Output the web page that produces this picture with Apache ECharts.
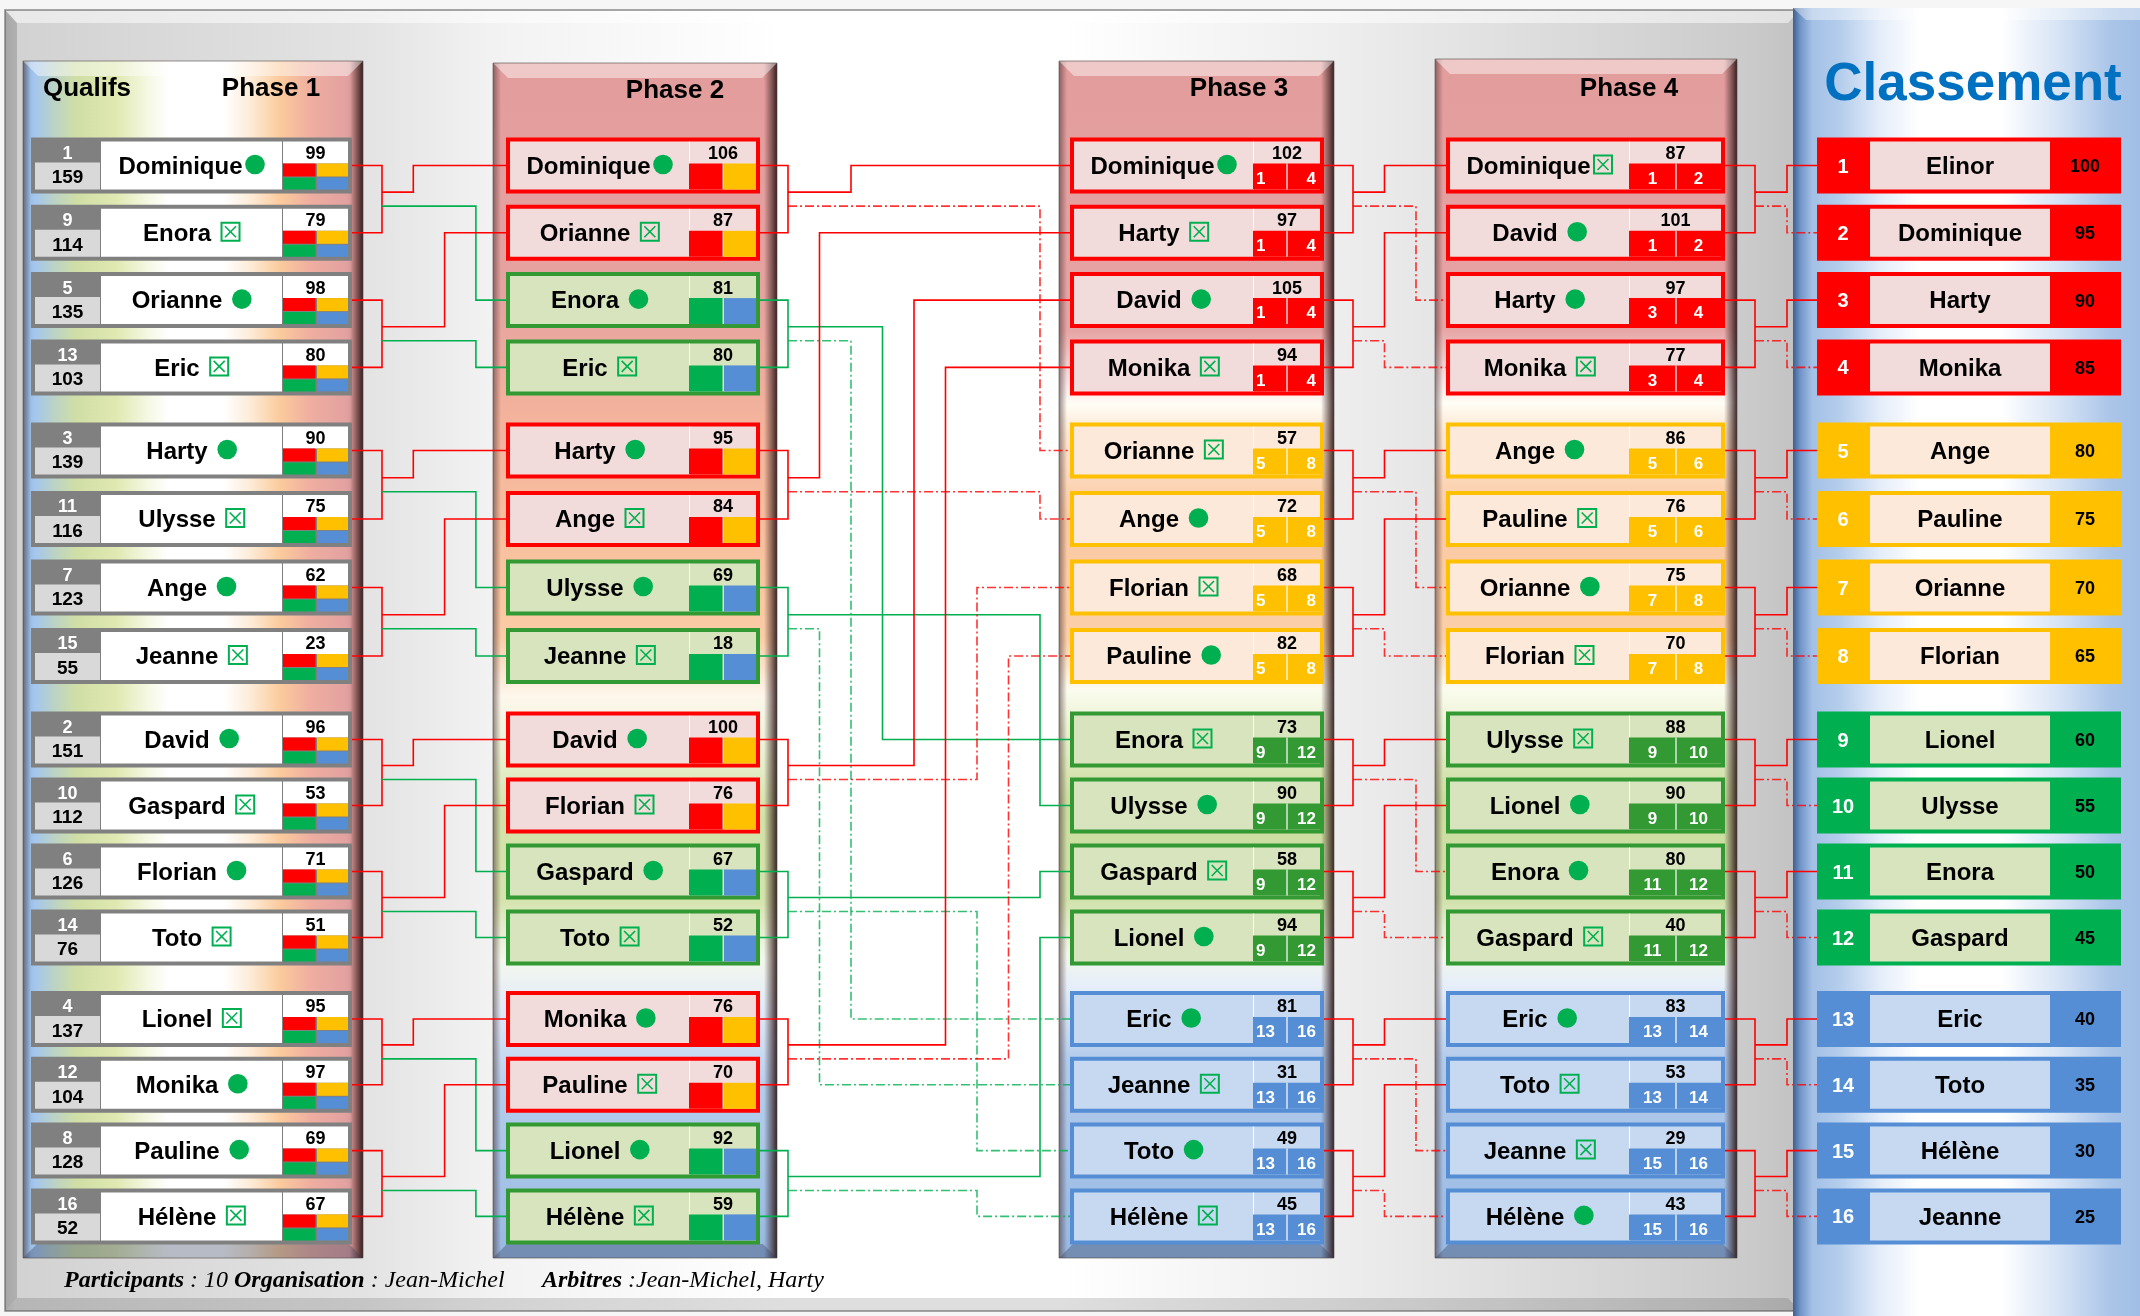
<!DOCTYPE html>
<html><head><meta charset="utf-8">
<script src="https://cdn.jsdelivr.net/npm/echarts@6/dist/echarts.min.js"></script>
<style>html,body{margin:0;padding:0;background:#fff;overflow:hidden}#main{width:2140px;height:1316px}</style>
</head><body><div id="main"></div>
<script>
// ================= DATA =================
const phaseTitles = ['Qualifs', 'Phase 1', 'Phase 2', 'Phase 3', 'Phase 4', 'Classement'];
const footerLeft = [['Participants', true], [' : 10 ', false], ['Organisation', true], [' : Jean-Michel', false]];
const footerRight = [['Arbitres', true], [' :Jean-Michel, Harty', false]];

// Phase 1 (qualification seed, qualif points, name, mark, phase-1 score)
const p1Seeds  = [1, 9, 5, 13, 3, 11, 7, 15, 2, 10, 6, 14, 4, 12, 8, 16];
const p1Qualif = [159, 114, 135, 103, 139, 116, 123, 55, 151, 112, 126, 76, 137, 104, 128, 52];
const p1Names  = ['Dominique', 'Enora', 'Orianne', 'Eric', 'Harty', 'Ulysse', 'Ange', 'Jeanne',
                  'David', 'Gaspard', 'Florian', 'Toto', 'Lionel', 'Monika', 'Pauline', 'Hélène'];
const p1Marks  = ['o', 'x', 'o', 'x', 'o', 'x', 'o', 'x', 'o', 'x', 'o', 'x', 'x', 'o', 'o', 'x'];
const p1Scores = [99, 79, 98, 80, 90, 75, 62, 23, 96, 53, 71, 51, 95, 97, 69, 67];

// Phase 2
const p2Names  = ['Dominique', 'Orianne', 'Enora', 'Eric', 'Harty', 'Ange', 'Ulysse', 'Jeanne',
                  'David', 'Florian', 'Gaspard', 'Toto', 'Monika', 'Pauline', 'Lionel', 'Hélène'];
const p2Marks  = ['o', 'x', 'o', 'x', 'o', 'x', 'o', 'x', 'o', 'x', 'o', 'x', 'o', 'x', 'o', 'x'];
const p2Scores = [106, 87, 81, 80, 95, 84, 69, 18, 100, 76, 67, 52, 76, 70, 92, 59];

// Phase 3
const p3Names  = ['Dominique', 'Harty', 'David', 'Monika', 'Orianne', 'Ange', 'Florian', 'Pauline',
                  'Enora', 'Ulysse', 'Gaspard', 'Lionel', 'Eric', 'Jeanne', 'Toto', 'Hélène'];
const p3Marks  = ['o', 'x', 'o', 'x', 'x', 'o', 'x', 'o', 'x', 'o', 'x', 'o', 'o', 'x', 'o', 'x'];
const p3Scores = [102, 97, 105, 94, 57, 72, 68, 82, 73, 90, 58, 94, 81, 31, 49, 45];
const p3RangeLo = [1, 1, 1, 1, 5, 5, 5, 5, 9, 9, 9, 9, 13, 13, 13, 13];
const p3RangeHi = [4, 4, 4, 4, 8, 8, 8, 8, 12, 12, 12, 12, 16, 16, 16, 16];

// Phase 4
const p4Names  = ['Dominique', 'David', 'Harty', 'Monika', 'Ange', 'Pauline', 'Orianne', 'Florian',
                  'Ulysse', 'Lionel', 'Enora', 'Gaspard', 'Eric', 'Toto', 'Jeanne', 'Hélène'];
const p4Marks  = ['x', 'o', 'o', 'x', 'o', 'x', 'o', 'x', 'x', 'o', 'o', 'x', 'o', 'x', 'x', 'o'];
const p4Scores = [87, 101, 97, 77, 86, 76, 75, 70, 88, 90, 80, 40, 83, 53, 29, 43];
const p4RangeLo = [1, 1, 3, 3, 5, 5, 7, 7, 9, 9, 11, 11, 13, 13, 15, 15];
const p4RangeHi = [2, 2, 4, 4, 6, 6, 8, 8, 10, 10, 12, 12, 14, 14, 16, 16];

// Classement
const rankNumbers = [1, 2, 3, 4, 5, 6, 7, 8, 9, 10, 11, 12, 13, 14, 15, 16];
const rankNames  = ['Elinor', 'Dominique', 'Harty', 'Monika', 'Ange', 'Pauline', 'Orianne', 'Florian',
                    'Lionel', 'Ulysse', 'Enora', 'Gaspard', 'Eric', 'Toto', 'Hélène', 'Jeanne'];
const rankPoints = [100, 95, 90, 85, 80, 75, 70, 65, 60, 55, 50, 45, 40, 35, 30, 25];

// ================= LAYOUT / STYLE =================
const SANS = '"Liberation Sans", Arial, sans-serif';
const SERIF = '"Liberation Serif", "Times New Roman", serif';
const RED = '#ff0000', ORANGE = '#ffc000', GREEN = '#00b050', BLUE = '#558ed5', DKGREEN = '#339933';
const BORDER = [RED, ORANGE, DKGREEN, BLUE];
const LIGHT = ['#f2dcdb', '#fde9d9', '#d7e4bd', '#c6d9f1'];
const STRONG = [RED, ORANGE, GREEN, BLUE];
const NAME_FONT = 'bold 24px ' + SANS;
const NUM_FONT = 'bold 18px ' + SANS;
const LINE_W = 1.6;
const DASH = [9, 3, 2, 3];
const GROUP_TOP = [165.5, 450.5, 739.5, 1019];
const GROUP_PITCH = [67.3, 68.5, 66, 65.8];
const TEXT_DY = 1.5;

// connector routing between columns: source edge, bracket x, lane step, target edge
const TRANS = [
  { src: 352, bx: 382, step: 31.3, tgt: 506 },
  { src: 760, bx: 788, step: 31.5, tgt: 1070 },
  { src: 1324, bx: 1353, step: 31.5, tgt: 1446 },
  { src: 1725, bx: 1755, step: 32, tgt: 1817 }
];
// lane index [transition][group][pair] for winner / loser routes
const LANE_W = [
  [[1, 2], [1, 2], [1, 2], [1, 2]],
  [[2, 3], [1, 8], [4, 8], [5, 8]],
  [[1, 1], [1, 1], [1, 1], [1, 1]],
  [[1, 1], [1, 1], [1, 1], [1, 1]]
];
const LANE_L = [
  [[3, 3], [3, 3], [3, 3], [3, 3]],
  [[8, 2], [8, 1], [6, 6], [7, 6]],
  [[2, 1], [2, 1], [2, 1], [2, 1]],
  [[1, 1], [1, 1], [1, 1], [1, 1]]
];

function rowY(r) { const g = Math.floor(r / 4); return GROUP_TOP[g] + GROUP_PITCH[g] * (r % 4); }

const mctx = document.createElement('canvas').getContext('2d');
function textW(t, font) { mctx.font = font; return mctx.measureText(t).width; }

function grad(x, y, x2, y2, stops) {
  return { type: 'linear', x: x, y: y, x2: x2, y2: y2, global: false,
    colorStops: stops.map(s => ({ offset: s[0], color: s[1] })) };
}

function tools(api) {
  const P = (x, y) => api.coord([x, y]);
  const rect = (x0, y0, x1, y1, style) => {
    const a = P(x0, y0), b = P(x1, y1);
    return { type: 'rect', shape: { x: Math.min(a[0], b[0]), y: Math.min(a[1], b[1]),
      width: Math.abs(b[0] - a[0]), height: Math.abs(b[1] - a[1]) }, style: style };
  };
  const text = (x, y, t, font, fill, align, extra) => {
    const a = P(x, y + TEXT_DY);
    return { type: 'text', style: Object.assign({ text: String(t), x: a[0], y: a[1], font: font, fill: fill,
      align: align || 'center', verticalAlign: 'middle' }, extra || {}) };
  };
  const poly = (pts, style) => ({ type: 'polyline', shape: { points: pts.map(p => P(p[0], p[1])) },
    style: Object.assign({ fill: null }, style) });
  const polygon = (pts, style) => ({ type: 'polygon', shape: { points: pts.map(p => P(p[0], p[1])) }, style: style });
  return { P, rect, text, poly, polygon };
}

function nameWithMark(T, cx, cy, name, mark) {
  const tw = textW(name, NAME_FONT);
  const gap = tw > 110 ? 3 : 10;
  const total = tw + gap + 19;
  const x0 = cx - total / 2;
  const els = [T.text(x0, cy, name, NAME_FONT, '#000', 'left')];
  const ix = x0 + tw + gap + 9.5, iy = cy - 1;
  if (mark === 'o') {
    const c = T.P(ix, iy);
    els.push({ type: 'circle', shape: { cx: c[0], cy: c[1], r: 9.8 }, style: { fill: GREEN } });
  } else {
    els.push(T.rect(ix - 9, iy - 9, ix + 9, iy + 9, { fill: null, stroke: GREEN, lineWidth: 2 }));
    els.push(T.poly([[ix - 5.5, iy - 5.5], [ix + 5.5, iy + 5.5]], { stroke: GREEN, lineWidth: 1.6 }));
    els.push(T.poly([[ix + 5.5, iy - 5.5], [ix - 5.5, iy + 5.5]], { stroke: GREEN, lineWidth: 1.6 }));
  }
  return els;
}

function panel(T, x0, y0, x1, y1, fill) {
  return [
    T.rect(x0, y0, x1, y1, { fill: fill }),
    T.rect(x0, y0, x0 + 8, y1, { fill: grad(0, 0, 1, 0, [[0, 'rgba(70,45,45,0.55)'], [1, 'rgba(70,45,45,0)']]) }),
    T.rect(x1 - 13, y0, x1, y1, { fill: grad(0, 0, 1, 0, [[0, 'rgba(50,25,25,0)'], [0.5, 'rgba(50,25,25,0.45)'], [1, 'rgba(40,20,20,0.9)']]) }),
    T.polygon([[x0, y0], [x1, y0], [x1 - 15, y0 + 15], [x0 + 15, y0 + 15]], { fill: 'rgba(255,255,255,0.45)' }),
    T.polygon([[x0, y1], [x1, y1], [x1 - 14, y1 - 14], [x0 + 14, y1 - 14]], { fill: 'rgba(50,60,90,0.35)' }),
    T.rect(x0, y0, x1, y1, { fill: null, stroke: 'rgba(80,70,70,0.6)', lineWidth: 1 })
  ];
}

const P1_STOPS = [[0, '#8fb3e0'], [0.035, '#a4c6ee'], [0.094, '#bcd3c4'], [0.153, '#cfdea6'], [0.27, '#dfe8b0'],
  [0.373, '#f6f9e6'], [0.43, '#ffffff'], [0.59, '#ffffff'], [0.667, '#fdecd9'], [0.755, '#fbcb9c'],
  [0.845, '#efaea0'], [0.95, '#e3a1a1'], [1, '#c88888']];
const P2_STOPS = [[0, '#e29c9c'], [0.2, '#e6a3a0'], [0.3, '#f4b39c'], [0.4, '#f8c09e'], [0.48, '#fbcca6'],
  [0.53, '#fdf7ec'], [0.57, '#eef3d8'], [0.63, '#d3e2a8'], [0.7, '#d5e3ad'], [0.75, '#f4f8ee'],
  [0.79, '#e2ebf8'], [0.86, '#b4cdec'], [1, '#98b8e2']];
const P3_STOPS = [[0, '#e29c9c'], [0.225, '#e7a4a4'], [0.265, '#f6dede'], [0.287, '#fffdf5'], [0.31, '#fde7d2'],
  [0.383, '#fac9a3'], [0.484, '#fbcfa8'], [0.525, '#fbfcef'], [0.55, '#eef4d8'], [0.617, '#cbdc9f'],
  [0.7, '#d0e1a9'], [0.747, '#f2f7ec'], [0.772, '#e6eef9'], [0.835, '#b2cbeb'], [1, '#98b8e2']];
const FRAME_STOPS = [[0, '#c6c6c6'], [0.006, '#d2d2d2'], [0.2, '#e3e3e3'], [0.27, '#f2f2f2'], [0.433, '#ffffff'],
  [0.59, '#ffffff'], [0.74, '#eeeeee'], [0.8, '#e5e5e5'], [0.97, '#cbcbcb'], [1, '#c2c2c2']];
const CLS_STOPS = [[0, '#3d5f8f'], [0.02, '#6f93c6'], [0.055, '#a3c0e6'], [0.135, '#b4cdec'], [0.25, '#e4edf9'],
  [0.366, '#ffffff'], [0.6, '#ffffff'], [0.77, '#d6e3f5'], [0.915, '#aac5e8'], [1, '#a0bee6']];

// ================= RENDERERS =================
function renderDecor(params, api) {
  const T = tools(api);
  const ch = [];
  ch.push(T.rect(0, 0, 2140, 1316, { fill: '#f6f6f6' }));
  ch.push(T.rect(5, 10, 1800, 1311, { fill: grad(0, 0, 1, 0, FRAME_STOPS) }));
  ch.push(T.polygon([[5, 10], [1800, 10], [1788, 23], [17, 23]], { fill: 'rgba(255,255,255,0.5)' }));
  ch.push(T.polygon([[5, 10], [17, 23], [17, 1298], [5, 1311]], { fill: 'rgba(0,0,0,0.16)' }));
  ch.push(T.polygon([[5, 1311], [1800, 1311], [1788, 1298], [17, 1298]], { fill: 'rgba(0,0,0,0.13)' }));
  ch.push(T.rect(5, 10, 1800, 1311, { fill: null, stroke: 'rgba(90,90,90,0.7)', lineWidth: 1.5 }));
  // Classement panel
  ch.push(T.rect(1793, 8, 2140, 1316, { fill: grad(0, 0, 1, 0, CLS_STOPS) }));
  ch.push(T.polygon([[1793, 8], [2140, 8], [2140, 20], [1806, 20]], { fill: 'rgba(255,255,255,0.4)' }));
  // phase panels
  ch.push.apply(ch, panel(T, 23, 61, 363, 1258, grad(0, 0, 1, 0, P1_STOPS)));
  ch.push.apply(ch, panel(T, 493, 63, 777, 1258, grad(0, 0, 0, 1, P2_STOPS)));
  ch.push.apply(ch, panel(T, 1059, 61, 1334, 1258, grad(0, 0, 0, 1, P3_STOPS)));
  ch.push.apply(ch, panel(T, 1435, 59, 1737, 1258, grad(0, 0, 0, 1, P3_STOPS)));
  // headings
  const HF = 'bold 26px ' + SANS;
  ch.push(T.text(87, 87, phaseTitles[0], HF, '#000'));
  ch.push(T.text(271, 87, phaseTitles[1], HF, '#000'));
  ch.push(T.text(675, 89, phaseTitles[2], HF, '#000'));
  ch.push(T.text(1239, 87, phaseTitles[3], HF, '#000'));
  ch.push(T.text(1629, 87, phaseTitles[4], HF, '#000'));
  ch.push(T.text(1973, 84, phaseTitles[5], 'bold 53px ' + SANS, '#0070c0'));
  // footer
  const rich = { b: { font: 'italic bold 24px ' + SERIF, fill: '#000' }, n: { font: 'italic 24px ' + SERIF, fill: '#000' } };
  const toRich = arr => arr.map(s => '{' + (s[1] ? 'b' : 'n') + '|' + s[0] + '}').join('');
  ch.push(T.text(64, 1279, toRich(footerLeft), 'italic 24px ' + SERIF, '#000', 'left', { rich: rich }));
  ch.push(T.text(542, 1279, toRich(footerRight), 'italic 24px ' + SERIF, '#000', 'left', { rich: rich }));
  return { type: 'group', children: ch };
}

function renderLinks(params, api) {
  const T = tools(api);
  const t = api.value(0), g = api.value(1), p = api.value(2);
  const L = TRANS[t];
  const a = 4 * g + 2 * p, b = a + 1;
  const ya = rowY(a), yb = rowY(b), ym = (ya + yb) / 2;
  const yW = ym - 7, yL = ym + 7;
  let wT, lT, bc, wc, lc, ldash;
  if (t === 0) { wT = 4 * g + p; lT = 4 * g + 2 + p; bc = RED; wc = RED; lc = GREEN; ldash = null; }
  else if (t === 1) { wT = 8 * p + g; lT = 8 * p + 4 + g; bc = wc = lc = (p === 0 ? RED : GREEN); ldash = DASH; }
  else if (t === 2) { wT = 4 * g + p; lT = 4 * g + 2 + p; bc = wc = lc = RED; ldash = DASH; }
  else { wT = 4 * g + 2 * p; lT = 4 * g + 2 * p + 1; bc = wc = lc = RED; ldash = DASH; }
  const xW = L.bx + L.step * LANE_W[t][g][p], xL = L.bx + L.step * LANE_L[t][g][p];
  const yWT = rowY(wT), yLT = rowY(lT);
  return { type: 'group', children: [
    T.poly([[L.src, ya], [L.bx, ya], [L.bx, yb], [L.src, yb]], { stroke: bc, lineWidth: LINE_W }),
    T.poly([[L.bx, yW], [xW, yW], [xW, yWT], [L.tgt, yWT]], { stroke: wc, lineWidth: LINE_W }),
    T.poly([[L.bx, yL], [xL, yL], [xL, yLT], [L.tgt, yLT]],
      { stroke: lc, lineWidth: LINE_W, lineDash: ldash, opacity: ldash ? 0.8 : 1 })
  ] };
}

function renderP1(params, api) {
  const T = tools(api);
  const i = api.value(0);
  const c = rowY(i);
  const ch = [
    T.rect(31, c - 28, 352, c + 28, { fill: '#808080' }),
    T.rect(35, c - 3, 100, c + 24, { fill: '#d9d9d9' }),
    T.text(67.5, c - 13, p1Seeds[i], 'bold 18px ' + SANS, '#fff'),
    T.text(67.5, c + 11, p1Qualif[i], 'bold 19px ' + SANS, '#000'),
    T.rect(101, c - 24, 282, c + 24, { fill: '#ffffff' }),
    T.rect(283, c - 24, 348, c - 2, { fill: '#ffffff' }),
    T.text(315.5, c - 13, p1Scores[i], NUM_FONT, '#000'),
    T.rect(283, c - 2, 315.5, c + 11, { fill: RED }),
    T.rect(317, c - 2, 348, c + 11, { fill: ORANGE }),
    T.rect(283, c + 12, 315.5, c + 24, { fill: GREEN }),
    T.rect(317, c + 12, 348, c + 24, { fill: BLUE })
  ];
  ch.push.apply(ch, nameWithMark(T, 191.5, c, p1Names[i], p1Marks[i]));
  return { type: 'group', children: ch };
}

function phaseBox(T, cfg, c, name, mark, score, border, light, bottomL, bottomR, lo, hi) {
  const ch = [
    T.rect(cfg.x0, c - 28, cfg.x1, c + 28, { fill: border }),
    T.rect(cfg.x0 + 4, c - 24, cfg.x1 - 4, c + 24, { fill: light }),
    T.rect(cfg.nameEnd, c - 24, cfg.nameEnd + 1, c + 24, { fill: 'rgba(255,255,255,0.9)' }),
    T.text((cfg.nameEnd + cfg.x1 - 4) / 2 + 0.5, c - 13, score, NUM_FONT, '#000')
  ];
  if (lo == null) {
    ch.push(T.rect(cfg.nameEnd, c - 2, cfg.split - 0.5, c + 24, { fill: bottomL }));
    ch.push(T.rect(cfg.split + 1, c - 2, cfg.x1 - 4, c + 24, { fill: bottomR }));
  } else {
    ch.push(T.rect(cfg.nameEnd, c - 2, cfg.x1 - 4, c + 24, { fill: bottomL }));
    ch.push(T.rect(cfg.split - 0.6, c - 2, cfg.split + 0.6, c + 24, { fill: '#ffffff' }));
    const f = 'bold 17px ' + SANS;
    if (cfg.edgeNums) {
      ch.push(T.text(cfg.nameEnd + 3, c + 12, lo, f, '#fff', 'left'));
      ch.push(T.text(cfg.x1 - 8, c + 12, hi, f, '#fff', 'right'));
    } else {
      ch.push(T.text((cfg.nameEnd + cfg.split) / 2, c + 12, lo, f, '#fff'));
      ch.push(T.text((cfg.split + cfg.x1 - 4) / 2, c + 12, hi, f, '#fff'));
    }
  }
  ch.push.apply(ch, nameWithMark(T, (cfg.x0 + 4 + cfg.nameEnd) / 2, c, name, mark));
  return ch;
}

const P2CFG = { x0: 506, x1: 760, nameEnd: 689, split: 723 };
const P3CFG = { x0: 1070, x1: 1324, nameEnd: 1253, split: 1287, edgeNums: true };
const P4CFG = { x0: 1446, x1: 1725, nameEnd: 1629, split: 1676 };

function renderP2(params, api) {
  const T = tools(api);
  const i = api.value(0);
  const top = (i % 4) < 2;
  return { type: 'group', children: phaseBox(T, P2CFG, rowY(i), p2Names[i], p2Marks[i], p2Scores[i],
    top ? RED : DKGREEN, top ? LIGHT[0] : LIGHT[2], top ? RED : GREEN, top ? ORANGE : BLUE) };
}
function renderP3(params, api) {
  const T = tools(api);
  const i = api.value(0), g = Math.floor(i / 4);
  return { type: 'group', children: phaseBox(T, P3CFG, rowY(i), p3Names[i], p3Marks[i], p3Scores[i],
    BORDER[g], LIGHT[g], BORDER[g], BORDER[g], p3RangeLo[i], p3RangeHi[i]) };
}
function renderP4(params, api) {
  const T = tools(api);
  const i = api.value(0), g = Math.floor(i / 4);
  return { type: 'group', children: phaseBox(T, P4CFG, rowY(i), p4Names[i], p4Marks[i], p4Scores[i],
    BORDER[g], LIGHT[g], BORDER[g], BORDER[g], p4RangeLo[i], p4RangeHi[i]) };
}
function renderRank(params, api) {
  const T = tools(api);
  const i = api.value(0), g = Math.floor(i / 4), c = rowY(i);
  return { type: 'group', children: [
    T.rect(1817, c - 28, 2121, c + 28, { fill: STRONG[g] }),
    T.rect(1870, c - 24, 2050, c + 24, { fill: LIGHT[g] }),
    T.text(1843, c, rankNumbers[i], 'bold 20px ' + SANS, '#fff'),
    T.text(1960, c, rankNames[i], NAME_FONT, '#000'),
    T.text(2085, c, rankPoints[i], NUM_FONT, '#000')
  ] };
}

// ================= CHART =================
const chart = echarts.init(document.getElementById('main'), null, { renderer: 'canvas', width: 2140, height: 1316 });
const idx = arr => arr.map((_, i) => [i, 0]);
const linkData = [];
for (let t = 0; t < 4; t++) for (let g = 0; g < 4; g++) for (let p = 0; p < 2; p++) linkData.push([t, g, p]);

function cs(name, render, data, z) {
  return { type: 'custom', name: name, coordinateSystem: 'cartesian2d', renderItem: render, data: data,
    clip: false, silent: true, z: z, animation: false, encode: { x: -1, y: -1 } };
}

chart.setOption({
  animation: false,
  grid: { left: 0, right: 0, top: 0, bottom: 0 },
  xAxis: { type: 'value', min: 0, max: 2140, show: false },
  yAxis: { type: 'value', min: 0, max: 1316, inverse: true, show: false },
  series: [
    cs('decor', renderDecor, [[0, 0]], 1),
    cs('links', renderLinks, linkData, 2),
    cs('phase1', renderP1, idx(p1Names), 3),
    cs('phase2', renderP2, idx(p2Names), 3),
    cs('phase3', renderP3, idx(p3Names), 3),
    cs('phase4', renderP4, idx(p4Names), 3),
    cs('classement', renderRank, idx(rankNames), 3)
  ]
});
</script></body></html>
